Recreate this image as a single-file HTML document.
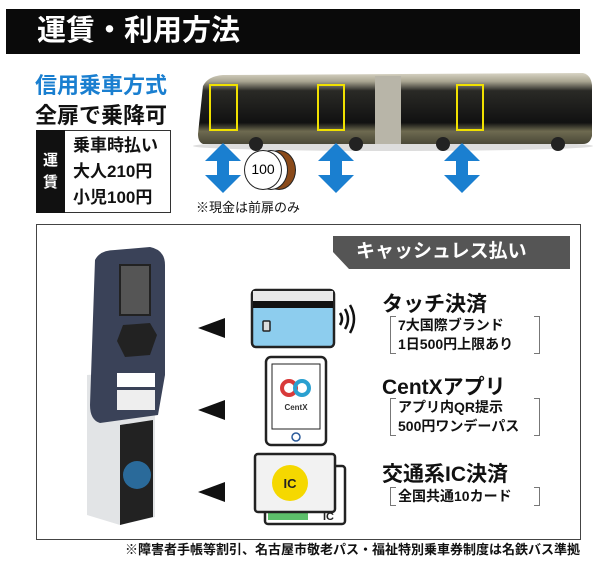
<!DOCTYPE html>
<html><head><meta charset="utf-8"><style>
*{margin:0;padding:0;box-sizing:border-box}
body{width:600px;height:562px;background:#fff;position:relative;overflow:hidden;font-family:"Liberation Sans","Noto Sans CJK JP",sans-serif;font-weight:bold}
.a{position:absolute}
.t{position:absolute;white-space:nowrap}
.br{position:absolute;white-space:nowrap;font-size:14px;color:#111;line-height:19px;font-weight:bold;padding:0 8px;width:150px}
.br:before,.br:after{content:"";position:absolute;top:0;bottom:0;width:5px;border:1px solid #777}
.br:before{left:0;border-right:none}
.br:after{right:0;border-left:none}
</style></head><body>
<div class="a" style="left:6px;top:9px;width:574px;height:45px;background:#0a0a0a"></div>
<div class="t" style="left:37px;top:12px;font-size:29px;color:#fff;line-height:38px">運賃・利用方法</div>
<div class="t" style="left:35px;top:72px;font-size:22px;color:#1a7fd0;line-height:28px">信用乗車方式</div>
<div class="t" style="left:35px;top:102px;font-size:22px;color:#111;line-height:28px">全扉で乗降可</div>
<div class="a" style="left:36px;top:130px;width:135px;height:83px;border:1.5px solid #333"></div>
<div class="a" style="left:36px;top:130px;width:29px;height:83px;background:#111"></div>
<div class="t" style="left:43px;top:150px;font-size:15px;color:#fff;line-height:22px;width:16px;white-space:normal">運賃</div>
<div class="t" style="left:73px;top:133px;font-size:17px;color:#111;line-height:26px">乗車時払い<br>大人210円<br>小児100円</div>
<!-- bus -->
<svg class="a" style="left:188px;top:68px" width="405" height="90">
<defs><linearGradient id="g" x1="0" y1="0" x2="0" y2="1"><stop offset="0" stop-color="#d8d4c4"/><stop offset=".12" stop-color="#a8a490"/><stop offset=".25" stop-color="#2a2a26"/><stop offset=".7" stop-color="#111"/><stop offset=".82" stop-color="#6e6a50"/><stop offset="1" stop-color="#4a4838"/></linearGradient></defs>
<ellipse cx="205" cy="78" rx="200" ry="5" fill="#ddd"/>
<path d="M15 18 Q20 8 35 7 L395 5 Q403 7 404 17 L404 68 Q402 76 395 76 L15 76 Q10 74 10 66 Z" fill="url(#g)"/>
<rect x="187" y="8" width="26" height="68" fill="#b8b5a8"/>
<circle cx="68" cy="76" r="7" fill="#222"/><circle cx="168" cy="76" r="7" fill="#222"/><circle cx="255" cy="76" r="7" fill="#222"/><circle cx="370" cy="76" r="7" fill="#222"/>
<rect x="22" y="17" width="27" height="45" fill="none" stroke="#f0e000" stroke-width="2"/>
<rect x="130" y="17" width="26" height="45" fill="none" stroke="#f0e000" stroke-width="2"/>
<rect x="269" y="17" width="26" height="45" fill="none" stroke="#f0e000" stroke-width="2"/>
</svg>
<!-- arrows -->
<svg class="a" style="left:205px;top:143px" width="285" height="50" fill="#1a7fd0">
<path id="ar" d="M18 0 L36 18 L24 18 L24 32 L36 32 L18 50 L0 32 L12 32 L12 18 L0 18Z"/>
<use href="#ar" x="113"/><use href="#ar" x="239"/>
</svg>
<div class="a" style="left:262px;top:150px;width:34px;height:40px;border-radius:50%;background:#8a4a1a;border:1.5px solid #222"></div>
<div class="a" style="left:254px;top:150px;width:34px;height:40px;border-radius:50%;background:#fff;border:1.5px solid #222"></div>
<div class="a" style="left:244px;top:150px;width:38px;height:40px;border-radius:50%;background:#fff;border:1.5px solid #222;font-size:14px;line-height:37px;text-align:center;font-weight:normal">100</div>
<div class="t" style="left:196px;top:197px;font-size:13px;color:#111;font-weight:normal">※現金は前扉のみ</div>
<!-- box -->
<div class="a" style="left:36px;top:224px;width:545px;height:316px;border:1.5px solid #444"></div>
<svg class="a" style="left:333px;top:236px" width="238" height="33"><polygon points="0,0 237,0 237,33 16,33 0,16" fill="#555"/></svg>
<div class="t" style="left:356px;top:238px;font-size:19px;color:#fff;line-height:28px">キャッシュレス払い</div>
<!-- device -->
<svg class="a" style="left:55px;top:245px" width="120" height="285">
<path d="M32 130 L100 125 L100 272 L65 280 L32 270Z" fill="#e2e4e6"/>
<path d="M65 180 L98 175 L98 272 L65 280Z" fill="#222"/>
<circle cx="82" cy="230" r="14" fill="#2a6a9a"/>
<path d="M40 15 Q45 5 60 5 L95 2 Q110 5 110 20 L110 130 L103 170 L45 178 Q35 175 35 160 Z" fill="#3a4258"/>
<rect x="65" y="20" width="30" height="50" fill="#555" stroke="#222" stroke-width="2"/>
<polygon points="68,80 95,78 102,90 95,110 70,112 62,96" fill="#222"/>
<rect x="62" y="128" width="38" height="14" fill="#fff"/>
<rect x="62" y="145" width="38" height="20" fill="#eee"/>
</svg>
<!-- triangles -->
<svg class="a" style="left:198px;top:310px" width="30" height="200" fill="#111">
<polygon points="0,18 27,8 27,28"/><polygon points="0,100 27,90 27,110"/><polygon points="0,182 27,172 27,192"/>
</svg>
<!-- card -->
<svg class="a" style="left:250px;top:288px" width="110" height="62">
<rect x="2" y="2" width="82" height="57" rx="4" fill="#8dcdee" stroke="#222" stroke-width="2.5"/>
<rect x="3" y="3" width="80" height="10" fill="#e8e8e8"/><rect x="3" y="13" width="80" height="7" fill="#111"/>
<rect x="13" y="33" width="7" height="10" rx="1" fill="#ddd" stroke="#222" stroke-width="1.5"/>
<path d="M90 25 Q94 31 90 37 M95 21 Q101 31 95 41 M100 17 Q108 31 100 45" fill="none" stroke="#111" stroke-width="2.5"/>
</svg>
<!-- phone -->
<svg class="a" style="left:264px;top:355px" width="64" height="92">
<rect x="2" y="2" width="60" height="88" rx="5" fill="#fff" stroke="#222" stroke-width="2.5"/>
<rect x="8" y="9" width="48" height="65" fill="#fff" stroke="#222" stroke-width="1"/>
<circle cx="25" cy="33" r="7" fill="none" stroke="#d83a3a" stroke-width="4"/><circle cx="38" cy="33" r="7" fill="none" stroke="#2aa0d0" stroke-width="4"/>
<text x="32" y="55" font-size="8" text-anchor="middle" fill="#333" font-family="Liberation Sans">CentX</text>
<circle cx="32" cy="82" r="4" fill="none" stroke="#2a5a9a" stroke-width="1.5"/>
</svg>
<!-- IC -->
<svg class="a" style="left:253px;top:452px" width="95" height="75">
<rect x="12" y="14" width="80" height="58" rx="3" fill="#fff" stroke="#222" stroke-width="2.5"/>
<rect x="15" y="60" width="40" height="8" fill="#5cbf6a"/>
<text x="70" y="68" font-size="11" font-weight="bold" fill="#222">IC</text>
<rect x="2" y="2" width="80" height="58" rx="3" fill="#f2f2f2" stroke="#222" stroke-width="2.5"/>
<circle cx="37" cy="31" r="18" fill="#f5d800"/>
<text x="37" y="36" font-size="13" font-weight="bold" text-anchor="middle" fill="#222" font-family="Liberation Sans">IC</text>
</svg>
<!-- texts -->
<div class="t" style="left:382px;top:288px;font-size:21px;color:#111">タッチ決済</div>
<div class="br" style="left:390px;top:316px">7大国際ブランド<br>1日500円上限あり</div>
<div class="t" style="left:382px;top:371px;font-size:21px;color:#111">CentXアプリ</div>
<div class="br" style="left:390px;top:398px">アプリ内QR提示<br>500円ワンデーパス</div>
<div class="t" style="left:382px;top:458px;font-size:21px;color:#111">交通系IC決済</div>
<div class="br" style="left:390px;top:487px">全国共通10カード</div>
<div class="t" style="right:20px;top:541px;font-size:13px;color:#111;line-height:18px">※障害者手帳等割引、名古屋市敬老パス・福祉特別乗車券制度は名鉄バス準拠</div>
</body></html>
